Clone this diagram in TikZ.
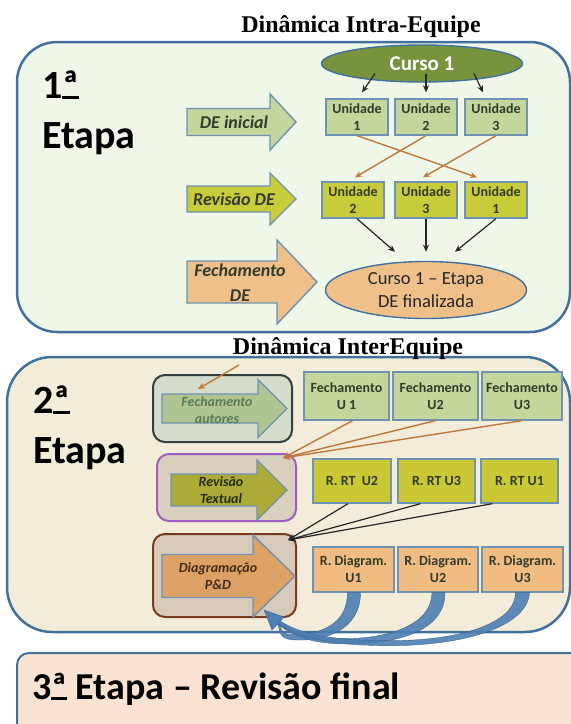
\documentclass[tikz,border=0pt]{standalone}
\usepackage{fontspec}
\setmainfont{Carlito}
\newfontfamily\titlefont{Liberation Serif}
\usetikzlibrary{calc,arrows.meta,shapes.geometric}
\newcommand{\ordul}{\setbox0\hbox{ª}\rlap{ª}\rule[-0.5pt]{\wd0}{2.4pt}}
\definecolor{bgA}{HTML}{EFF7E9}
\definecolor{bgB}{HTML}{F2ECD8}
\definecolor{bgC}{HTML}{FBE3D4}
\definecolor{frame}{HTML}{41719C}
\definecolor{ubord}{HTML}{6E93B3}
\definecolor{lgreen}{HTML}{C3D69B}
\definecolor{ygreen}{HTML}{C8CB3A}
\definecolor{orangeF}{HTML}{F0C08A}
\definecolor{olive}{HTML}{77933C}
\definecolor{gAfill}{HTML}{D4DCCC}
\definecolor{gAbord}{HTML}{34403F}
\definecolor{gBfill}{HTML}{D8CFBF}
\definecolor{gBbord}{HTML}{A05CC0}
\definecolor{gCfill}{HTML}{D8CABA}
\definecolor{gCbord}{HTML}{7B3B20}
\definecolor{aAfill}{HTML}{AFC491}
\definecolor{aBfill}{HTML}{ADAA38}
\definecolor{aCfill}{HTML}{DDA166}
\definecolor{rrt}{HTML}{CBC836}
\definecolor{rdiag}{HTML}{F0BC82}
\definecolor{orarr}{HTML}{C0783A}
\definecolor{bandc}{HTML}{4D7FB3}
\definecolor{txtdark}{HTML}{333B2B}
\begin{document}
\begin{tikzpicture}[x=1pt,y=-1pt,
  stagebox/.style={draw=frame,line width=2.5},
  ubox/.style={draw=ubord,line width=1.3,inner sep=0,align=center,
    font=\fontsize{14}{17}\selectfont\bfseries,text=txtdark},
  blockarr/.style={draw=ubord,line width=1.4},
  arrtxt/.style={inner sep=0,align=center,font=\fontsize{18}{25}\selectfont\bfseries\itshape,text=txtdark},
  arrtxtB/.style={inner sep=0,align=center,font=\fontsize{14}{16.5}\selectfont\bfseries\itshape},
  grpbox/.style={line width=2,rounded corners=12},
  bigtxt/.style={anchor=base west,inner sep=0,font=\fontsize{40}{48}\selectfont\bfseries},
  ttl/.style={anchor=base,inner sep=0,font=\titlefont\fontsize{24}{28}\selectfont\bfseries},
  blk/.style={draw=black!85,line width=1.2,-{Stealth[length=7pt,width=6pt]}},
  ora/.style={draw=orarr,line width=1.4,-{Stealth[length=7pt,width=6pt]}},
  band/.style={fill=bandc,draw=bandc!80!black,line width=0.4,fill opacity=0.9}]
\useasboundingbox (0,0) rectangle (571,724);

% ---------- stage boxes ----------
\draw[stagebox,fill=bgA,rounded corners=40] (17,42) rectangle (570,332);
\draw[stagebox,fill=bgB,rounded corners=45] (7,357) rectangle (570,632);
\draw[stagebox,fill=bgC,line width=2,rounded corners=12] (17,653) rectangle (600,760);

% ---------- titles ----------
\node[ttl] (t1) at (361,32) {Dinâmica Intra-Equipe};
\node[ttl] (t2) at (348,354) {Dinâmica InterEquipe};
\node[bigtxt] (s1a) at (42,98) {1\ordul};
\node[bigtxt] (s1b) at (42,148) {Etapa};
\node[bigtxt] (s2a) at (33,413) {2\ordul};
\node[bigtxt] (s2b) at (33,463) {Etapa};
\node[bigtxt,font=\fontsize{38}{44}\selectfont\bfseries] (s3) at (32,699) {3\ordul{} Etapa – Revisão final};

% ---------- stage 1 block arrows ----------
\draw[blockarr,fill=lgreen] (187,108.5) -- (270,108.5) -- (270,94) -- (296,122) -- (270,150) -- (270,135.5) -- (187,135.5) -- cycle;
\node[arrtxt] (deini) at (234,122) {DE inicial};
\draw[blockarr,fill=ygreen] (187,186) -- (270,186) -- (270,173) -- (296,199) -- (270,225) -- (270,212) -- (187,212) -- cycle;
\node[arrtxt] (revde) at (234,199) {Revisão DE};
\draw[blockarr,fill=orangeF] (187,261) -- (277,261) -- (277,240) -- (317,282) -- (277,324) -- (277,303) -- (187,303) -- cycle;
\node[arrtxt] (fechde) at (240,283) {Fechamento\\DE};

% ---------- stage 1 nodes ----------
\node[ellipse,draw=frame,line width=1.4,fill=olive,minimum width=201,minimum height=37,inner sep=0,
  text=white,font=\fontsize{21}{24}\selectfont\bfseries] (curso) at (422,63.5) {Curso 1};
\node[ubox,fill=lgreen,minimum width=62,minimum height=36] (ua1) at (357,117) {Unidade\\1};
\node[ubox,fill=lgreen,minimum width=62,minimum height=36] (ua2) at (426,117) {Unidade\\2};
\node[ubox,fill=lgreen,minimum width=62,minimum height=36] (ua3) at (496,117) {Unidade\\3};
\node[ubox,fill=ygreen,minimum width=62,minimum height=36] (rb2) at (353,200) {Unidade\\2};
\node[ubox,fill=ygreen,minimum width=62,minimum height=36] (rb3) at (426,200) {Unidade\\3};
\node[ubox,fill=ygreen,minimum width=62,minimum height=36] (rb1) at (496,200) {Unidade\\1};
\node[ellipse,draw=frame,line width=1.4,fill=orangeF,minimum width=201,minimum height=57,inner sep=0,
  align=center,text=black!85,font=\fontsize{18.5}{23}\selectfont] (fin) at (426,290) {Curso 1 – Etapa\\DE finalizada};

% ---------- stage 1 connectors ----------
\draw[blk] ($(curso.center)+(-47,10)$) -- ($(ua1.north)+(5,-6)$);
\draw[blk] ($(curso.center)+(4,10)$) -- ($(ua2.north)+(0,-6)$);
\draw[blk] ($(curso.center)+(52,10)$) -- ($(ua3.north)+(-13,-6)$);
\draw[ora] (ua1.south) -- ($(rb1.north)+(-19,-4)$);
\draw[ora] (ua2.south) -- ($(rb2.north)+(2,-4)$);
\draw[ora] (ua3.south) -- ($(rb3.north)+(-3,-4)$);
\draw[blk] ($(rb2.south)+(4,0)$) -- ($(fin.north)+(-31,-9)$);
\draw[blk] (rb3.south) -- ($(fin.north)+(0,-9)$);
\draw[blk] (rb1.south) -- ($(fin.north)+(29,-9)$);

% ---------- stage 2 group boxes and block arrows ----------
\draw[grpbox,draw=gAbord,fill=gAfill] (153,375) rectangle (292,442);
\draw[blockarr,fill=aAfill] (162,394) -- (258,394) -- (258,379.5) -- (287,408.5) -- (258,437.5) -- (258,423) -- (162,423) -- cycle;
\node[arrtxtB,text=black!55!green!30!gray] (fa) at (217,410) {Fechamento\\autores};

\draw[grpbox,draw=gBbord,fill=gBfill] (157,454) rectangle (296,521);
\coordinate (gBne) at (296,454);
\draw[blockarr,fill=aBfill] (171,474) -- (257,474) -- (257,460) -- (287,490) -- (257,520) -- (257,506) -- (171,506) -- cycle;
\node[arrtxtB,text=black!70!olive] (rt) at (221,490) {Revisão\\Textual};

\draw[grpbox,draw=gCbord,fill=gCfill] (153,534) rectangle (296,617);
\coordinate (gCne) at (296,534);
\draw[blockarr,fill=aCfill] (162,554.5) -- (253,554.5) -- (253,535) -- (295,576) -- (253,617) -- (253,597.5) -- (162,597.5) -- cycle;
\node[arrtxtB,text=black!65!brown] (dg) at (218,576) {Diagramação\\P\&D};

% ---------- stage 2 boxes ----------
\node[ubox,fill=lgreen,minimum width=85,minimum height=48] (fu1) at (346.5,396) {Fechamento\\U 1};
\node[ubox,fill=lgreen,minimum width=85,minimum height=48] (fu2) at (435.5,396) {Fechamento\\U2};
\node[ubox,fill=lgreen,minimum width=80,minimum height=48] (fu3) at (522,396) {Fechamento\\U3};
\node[ubox,fill=rrt,minimum width=78,minimum height=44] (rt2) at (352,481) {R. RT\ \ U2};
\node[ubox,fill=rrt,minimum width=77,minimum height=44] (rt3) at (436.5,481) {R. RT U3};
\node[ubox,fill=rrt,minimum width=77,minimum height=44] (rt1) at (519.5,481) {R. RT U1};
\node[ubox,fill=rdiag,minimum width=81,minimum height=45] (rd1) at (353.5,569.5) {R. Diagram.\\U1};
\node[ubox,fill=rdiag,minimum width=80,minimum height=45] (rd2) at (438,569.5) {R. Diagram.\\U2};
\node[ubox,fill=rdiag,minimum width=81,minimum height=45] (rd3) at (522.5,569.5) {R. Diagram.\\U3};

% ---------- stage 2 connectors ----------
\coordinate (oStart) at (239,365);
\coordinate (oEnd) at (198,389);
\draw[ora] (oStart) -- (oEnd);
\draw[ora] ($(fu1.south)+(6,0)$) -- ($(gBne)+(-13,4)$);
\draw[ora] (fu2.south) -- ($(gBne)+(-13,4)$);
\draw[ora] (fu3.south) -- ($(gBne)+(-13,4)$);
\draw[blk] ($(rt2.south)+(-4,0)$) -- ($(gCne)+(-8,6)$);
\draw[blk] ($(rt3.south)+(-16,0)$) -- ($(gCne)+(-8,6)$);
\draw[blk] ($(rt1.south)+(-27,0)$) -- ($(gCne)+(-8,6)$);

% blue curved band arrows
\coordinate (tipD) at (275,621);
\fill[band] ($(rd1.south)+(7,0)$) .. controls ($(rd1.south)+(7,36)$) and ($(rd1.south)+(-27,50)$) .. ($(rd1.south)+(-62,47)$)
   .. controls ($(rd1.south)+(-78,45)$) and ($(tipD)+(8,8)$) .. (tipD)
   -- ($(tipD)+(2,-2)$) .. controls ($(tipD)+(10,6)$) and ($(rd1.south)+(-78,41)$) .. ($(rd1.south)+(-62,42)$)
   .. controls ($(rd1.south)+(-30,42)$) and ($(rd1.south)+(-6,30)$) .. ($(rd1.south)+(-6,0)$) -- cycle;
\fill[band] ($(rd2.south)+(7,0)$) .. controls ($(rd2.south)+(7,38)$) and ($(rd2.south)+(-40,53)$) .. ($(rd2.south)+(-100,51)$)
   .. controls ($(rd2.south)+(-135,50)$) and ($(tipD)+(10,10)$) .. (tipD)
   -- ($(tipD)+(2,-2)$) .. controls ($(tipD)+(14,8)$) and ($(rd2.south)+(-135,46)$) .. ($(rd2.south)+(-100,46)$)
   .. controls ($(rd2.south)+(-45,47)$) and ($(rd2.south)+(-6,30)$) .. ($(rd2.south)+(-6,0)$) -- cycle;
\fill[band] ($(rd3.south)+(7,0)$) .. controls ($(rd3.south)+(5,33)$) and ($(rd3.south)+(-55,53)$) .. ($(rd3.south)+(-133,53)$)
   .. controls ($(rd3.south)+(-205,53)$) and ($(tipD)+(14,12)$) .. (tipD)
   -- ($(tipD)+(2,-2)$) .. controls ($(tipD)+(18,9)$) and ($(rd3.south)+(-205,48)$) .. ($(rd3.south)+(-133,48)$)
   .. controls ($(rd3.south)+(-60,48)$) and ($(rd3.south)+(-7,30)$) .. ($(rd3.south)+(-7,0)$) -- cycle;
\fill[band,fill opacity=1] ($(tipD)+(-11,-11)$) -- ($(tipD)+(9,-4)$) -- ($(tipD)+(-3,9)$) -- cycle;
\end{tikzpicture}
\end{document}
